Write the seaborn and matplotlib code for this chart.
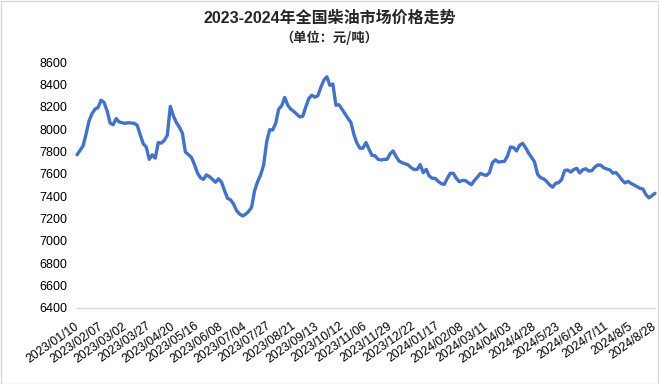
import matplotlib
matplotlib.use("Agg")
import matplotlib.pyplot as plt
import matplotlib.transforms as mtransforms
import seaborn as sns
import pandas as pd
from matplotlib.patches import Rectangle

tick_labels = ["2023/01/10", "2023/02/07", "2023/03/02", "2023/03/27", "2023/04/20",
               "2023/05/16", "2023/06/08", "2023/07/04", "2023/07/27", "2023/08/21",
               "2023/09/13", "2023/10/12", "2023/11/06", "2023/11/29", "2023/12/22",
               "2024/01/17", "2024/02/08", "2024/03/11", "2024/04/03", "2024/4/28",
               "2024/5/23", "2024/6/18", "2024/7/11", "2024/8/5", "2024/8/28"]

prices = [
    7770, 7810, 7850, 7955, 8075, 8140, 8180, 8195, 8260, 8240,
    8165, 8055, 8040, 8095, 8065, 8058, 8053, 8058, 8055, 8053,
    8035, 7950, 7870, 7840, 7730, 7770, 7740, 7880, 7875, 7900,
    7945, 8205, 8120, 8060, 8018, 7965, 7795, 7772, 7748, 7685,
    7608, 7565, 7550, 7590, 7574, 7550, 7524, 7555, 7525, 7450,
    7380, 7367, 7330, 7270, 7240, 7222, 7237, 7262, 7300, 7450,
    7530, 7590, 7680, 7885, 7995, 7993, 8053, 8180, 8210, 8285,
    8215, 8180, 8160, 8135, 8110, 8117, 8200, 8275, 8305, 8287,
    8300, 8375, 8440, 8470, 8393, 8405, 8215, 8220, 8180, 8140,
    8098, 8060, 7950, 7875, 7829, 7830, 7880, 7820, 7765, 7762,
    7730, 7724, 7730, 7730, 7780, 7805, 7755, 7713, 7700, 7690,
    7680, 7655, 7638, 7640, 7683, 7610, 7640, 7580, 7560, 7559,
    7532, 7512, 7505, 7560, 7604, 7604, 7560, 7529, 7540, 7540,
    7520, 7502, 7540, 7570, 7604, 7592, 7585, 7610, 7700, 7725,
    7705, 7709, 7712, 7760, 7840, 7836, 7805, 7855, 7873, 7835,
    7786, 7748, 7705, 7595, 7565, 7555, 7532, 7500, 7480, 7515,
    7520, 7550, 7630, 7634, 7615, 7638, 7649, 7608, 7636, 7645,
    7625, 7628, 7660, 7679, 7677, 7653, 7643, 7635, 7606, 7612,
    7582, 7545, 7518, 7532, 7515, 7500, 7485, 7470, 7463, 7413,
    7384, 7405, 7425,
]

y_ticks = [6400, 6600, 6800, 7000, 7200, 7400, 7600, 7800, 8000, 8200, 8400, 8600]

title = "2023-2024年全国柴油市场价格走势"
subtitle = "（单位：元/吨）"

sns.set_theme(style="white")
plt.rcParams["font.family"] = ["Liberation Sans", "Noto Sans CJK SC", "DejaVu Sans"]

df = pd.DataFrame({"idx": range(len(prices)), "price": prices})
step = (len(prices) - 1) // (len(tick_labels) - 1)

fig = plt.figure(figsize=(6.59, 3.84), dpi=100)
ax = fig.add_axes([77 / 659, 1 - 307.6 / 384, (655 - 77) / 659, (307.6 - 62.3) / 384])

sns.lineplot(data=df, x="idx", y="price", ax=ax, color="#4472C4", linewidth=2.4,
             clip_on=False)

ax.set_xlim(0, len(prices) - 1)
ax.set_ylim(6400, 8600)
ax.set_yticks(y_ticks)
ax.set_yticklabels([str(v) for v in y_ticks], fontsize=9, color="#000000")
ax.set_xticks(list(range(0, len(prices), step)))
ax.set_xticklabels(tick_labels, fontsize=8.8, rotation=35, ha="right", va="top",
                   rotation_mode="anchor", color="#000000")
ax.tick_params(axis="y", length=0, pad=7)
ax.tick_params(axis="x", length=0, pad=9)
shift = mtransforms.ScaledTranslation(-3 / 100, 0, fig.dpi_scale_trans)
for lbl in ax.get_xticklabels():
    lbl.set_transform(lbl.get_transform() + shift)
ax.set_xlabel("")
ax.set_ylabel("")
for s in ["top", "right", "left"]:
    ax.spines[s].set_visible(False)
ax.spines["bottom"].set_color("#d9d9d9")
ax.spines["bottom"].set_linewidth(1.0)
ax.grid(False)

fig.text(0.5, 1 - 18 / 384, title, ha="center", va="center", fontsize=11.5,
         fontweight="bold", family=["Liberation Sans", "Noto Sans CJK SC"])
fig.text(0.5, 1 - 38 / 384, subtitle, ha="center", va="center", fontsize=9.5,
         fontweight="bold", family=["Noto Sans CJK SC", "Liberation Sans"])

fig.patches.append(Rectangle((0.5 / 659, 0.5 / 384), 1 - 1.5 / 659, 1 - 1.5 / 384,
                             transform=fig.transFigure, fill=False,
                             edgecolor="#d9d9d9", linewidth=1.0))

fig.savefig("out.png", dpi=100)
